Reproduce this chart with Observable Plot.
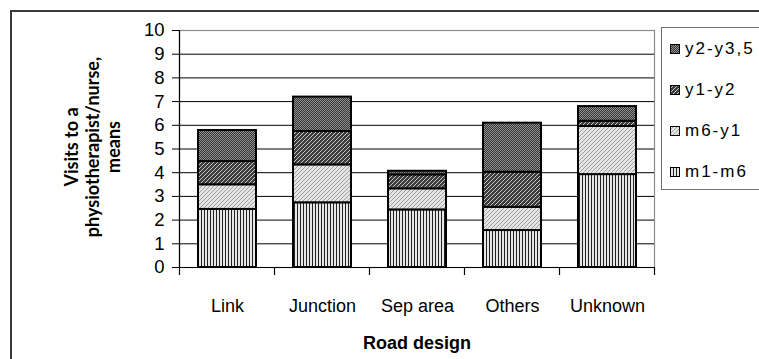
<!DOCTYPE html>
<html>
<head>
<meta charset="utf-8">
<script src="https://cdn.jsdelivr.net/npm/d3@7"></script>
<script src="https://cdn.jsdelivr.net/npm/@observablehq/plot@0.6"></script>
<style>
  html, body { margin: 0; padding: 0; background: #fff; }
  #wrap { position: relative; width: 759px; height: 359px; overflow: hidden; background: #fff; }
  #outer { position: absolute; left: 10px; top: 10px; width: 900px; height: 500px;
           border-top: 2px solid #3a3a3a; border-left: 2px solid #3a3a3a; box-sizing: border-box; }
  #chart { position: absolute; left: 0; top: 0; }
  #legend { position: absolute; left: 661px; top: 27px; width: 140px; height: 163px;
            border: 1px solid #707070; box-sizing: border-box; background: #fff;
            font-family: "Liberation Sans", Arial, sans-serif; font-size: 17px; letter-spacing: 2px; color: #000; }
  .item { height: 41px; display: flex; align-items: center; }
  .item svg { margin-left: 8px; margin-right: 5px; }
</style>
</head>
<body>
<svg width="0" height="0" style="position:absolute">
  <defs>
    <pattern id="p-m1m6" patternUnits="userSpaceOnUse" width="3" height="3">
      <rect width="3" height="3" fill="#fff"/>
      <line x1="0.5" y1="0" x2="0.5" y2="3" stroke="#222" stroke-width="1"/>
      <line x1="2" y1="0" x2="2" y2="3" stroke="#aaa" stroke-width="0.6"/>
    </pattern>
    <pattern id="p-m6y1" patternUnits="userSpaceOnUse" width="4" height="4">
      <rect width="4" height="4" fill="#e4e4e4"/>
      <path d="M0,4 L4,0 M-1,1 L1,-1 M3,5 L5,3" stroke="#a0a0a0" stroke-width="1"/>
    </pattern>
    <pattern id="p-y1y2" patternUnits="userSpaceOnUse" width="4" height="4">
      <rect width="4" height="4" fill="#3c3c3c"/>
      <path d="M0,4 L4,0 M-1,1 L1,-1 M3,5 L5,3" stroke="#c8c8c8" stroke-width="1"/>
    </pattern>
    <pattern id="p-y2y35" patternUnits="userSpaceOnUse" width="2" height="2">
      <rect width="2" height="2" fill="#353535"/>
      <rect x="0" y="0" width="1" height="1" fill="#909090"/>
      <rect x="1" y="1" width="1" height="1" fill="#909090"/>
    </pattern>
  </defs>
</svg>
<div id="wrap">
  <div id="outer"></div>
  <div id="chart"></div>
  <div id="legend"></div>
</div>
<script>
// ---- data ----
const categories = ["Link", "Junction", "Sep area", "Others", "Unknown"];
const periods = ["m1-m6", "m6-y1", "y1-y2", "y2-y3,5"];
const m1m6  = [2.45, 2.73, 2.43, 1.56, 3.92];
const m6y1  = [1.04, 1.60, 0.89, 0.98, 2.03];
const y1y2  = [0.98, 1.41, 0.59, 1.48, 0.22];
const y2y35 = [1.31, 1.45, 0.15, 2.07, 0.62];
const yTicks = [0, 1, 2, 3, 4, 5, 6, 7, 8, 9, 10];
const legendOrder = ["y2-y3,5", "y1-y2", "m6-y1", "m1-m6"];
const xTitle = "Road design";
const yTitle = "Visits to a\nphysiotherapist/nurse,\nmeans";

// ---- styling ----
const patternFor = {"m1-m6": "url(#p-m1m6)", "m6-y1": "url(#p-m6y1)", "y1-y2": "url(#p-y1y2)", "y2-y3,5": "url(#p-y2y35)"};
const series = [m1m6, m6y1, y1y2, y2y35];
const rows = [];
categories.forEach((c, i) => periods.forEach((p, j) => rows.push({cat: c, period: p, value: series[j][i]})));

const font = '"Liberation Sans", Arial, sans-serif';

const chart = Plot.plot({
  width: 759,
  height: 359,
  marginLeft: 179,
  marginRight: 105,
  marginTop: 30,
  marginBottom: 92,
  style: {fontFamily: font, color: "#000", background: "transparent", overflow: "visible"},
  x: {domain: categories, paddingInner: 0.39, paddingOuter: 0.195, axis: null},
  y: {domain: [0, 10], axis: null},
  color: {type: "ordinal", domain: periods, range: periods.map(p => patternFor[p])},
  marks: [
    Plot.frame({stroke: "#8a8a8a", strokeWidth: 1.2}),
    Plot.gridY(yTicks.filter(t => t > 0 && t < 10), {stroke: "#000", strokeOpacity: 1, strokeWidth: 1}),
    Plot.barY(rows, {x: "cat", y: "value", fill: "period", stroke: "#000", strokeWidth: 2}),
    Plot.ruleY([0], {stroke: "#000", strokeWidth: 1.2}),
    Plot.axisY({ticks: yTicks, tickSize: 7, tickPadding: 8, fontSize: 18.5, label: null, stroke: "#000"}),
    Plot.axisX({tickSize: 0, tickPadding: 32, fontSize: 18, label: null}),
    Plot.text([xTitle], {frameAnchor: "bottom", dy: 81, lineAnchor: "bottom", fontSize: 18, fontWeight: "bold", text: d => d, fill: "#000", letterSpacing: 2}),
    Plot.text([yTitle], {frameAnchor: "left", dx: -87, dy: -2, rotate: -90, lineAnchor: "middle", textAnchor: "middle", lineHeight: 1.15, fontSize: 18, fontWeight: "bold", fontFamily: 'Lato, "Open Sans", sans-serif', text: d => d, fill: "#000"})
  ]
});
document.getElementById("chart").appendChild(chart);

// left axis line and category boundary ticks, from the plot's scales
const xs = chart.scale("x");
const ys = chart.scale("y");
const svg = d3.select(chart);
const y0 = ys.apply(0), yTop = ys.apply(10);
const gap = (xs.step - xs.bandwidth) / 2;
const bounds = categories.map(c => xs.apply(c) - gap);
bounds.push(xs.apply(categories[categories.length - 1]) + xs.bandwidth + gap);
svg.append("line").attr("x1", bounds[0]).attr("x2", bounds[0]).attr("y1", yTop).attr("y2", y0)
  .attr("stroke", "#000").attr("stroke-width", 1.2);
svg.selectAll("line.bt").data(bounds).join("line").attr("class", "bt")
  .attr("x1", d => d).attr("x2", d => d).attr("y1", y0).attr("y2", y0 + 8)
  .attr("stroke", "#000").attr("stroke-width", 1.2);

// legend
const legend = d3.select("#legend");
legendOrder.forEach(p => {
  const it = legend.append("div").attr("class", "item");
  const s = it.append("svg").attr("width", 10).attr("height", 10);
  s.append("rect").attr("x", 0.5).attr("y", 0.5).attr("width", 9).attr("height", 9)
    .attr("fill", chart.scale("color").apply(p)).attr("stroke", "#000").attr("stroke-width", 1);
  it.append("span").text(p);
});
</script>
</body>
</html>
